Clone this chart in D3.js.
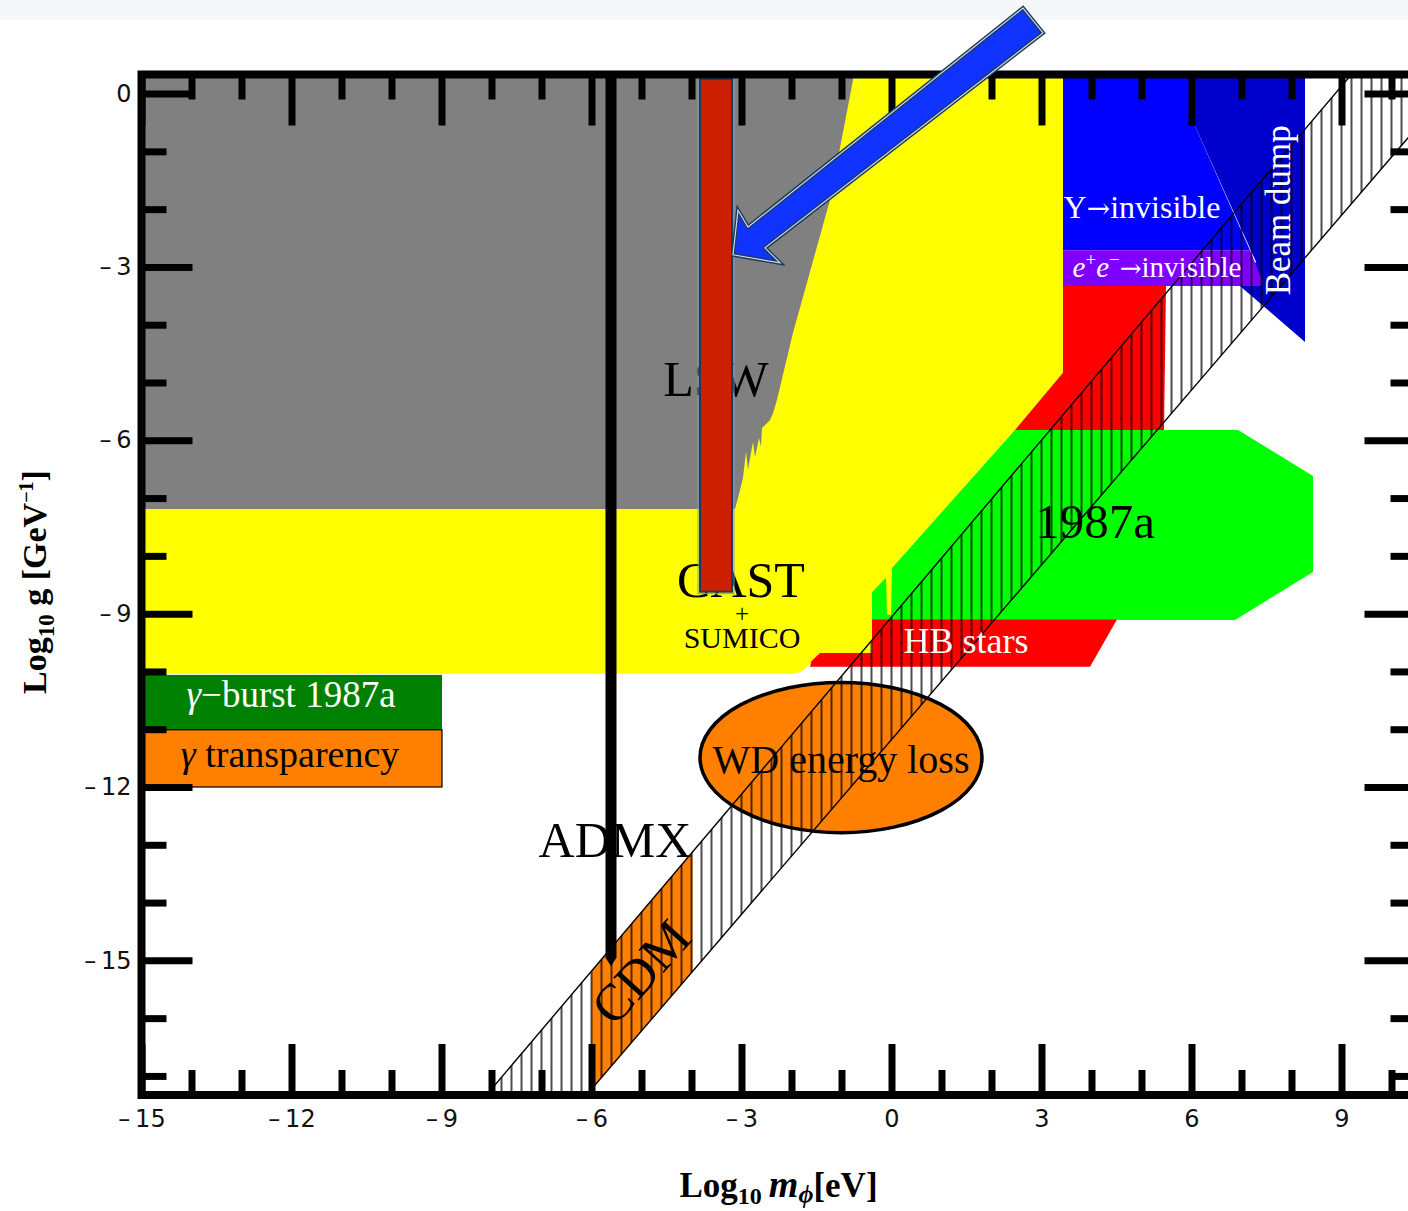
<!DOCTYPE html>
<html>
<head>
<meta charset="utf-8">
<title>Axion-like particle exclusion limits</title>
<script src="https://cdn.jsdelivr.net/npm/d3@7"></script>
<style>
  html, body { margin: 0; padding: 0; background: #fff; }
  svg { display: block; }
</style>
</head>
<body>
<svg id="chart" width="1408" height="1211"></svg>
<script>
// Axis extents: log10 of the mass (eV) and of the coupling (GeV^-1)
const massDomain = [-15, 10.48];
const couplingDomain = [-17.33, 0.33];

const massMajorTicks = [-15, -12, -9, -6, -3, 0, 3, 6, 9];
const massMinorTicks = [-14, -13, -11, -10, -8, -7, -5, -4, -2, -1, 1, 2, 4, 5, 7, 8, 10];
const couplingMajorTicks = [0, -3, -6, -9, -12, -15];
const couplingMinorTicks = [-1, -2, -4, -5, -7, -8, -10, -11, -13, -14, -16, -17];

// Excluded regions, outlines as [log10 m, log10 g]
const helioscopeRegion = [[-15, 0.33], [3.43, 0.33], [3.43, -4.83], [2.47, -5.82], [0.01, -8.21],
  [0.01, -9.68], [-1.43, -9.68], [-1.63, -9.87], [-1.8, -10.0], [-1.97, -10.04], [-15, -10.04]];
const lswRegion = [[-15, 0.33], [-0.76, 0.33], [-0.77, 0.235], [-1.23, -1.84], [-1.97, -4.14],
  [-2.29, -5.30], [-2.37, -5.53], [-2.43, -5.65], [-2.59, -5.79], [-2.61, -6.11], [-2.65, -5.96],
  [-2.73, -6.29], [-2.77, -6.03], [-2.87, -6.51], [-2.91, -6.20], [-2.97, -6.65], [-3.07, -7.00],
  [-3.13, -7.19], [-15, -7.19]];
const upsilonRegion = [[3.43, 0.33], [6.07, 0.33], [6.07, -0.56], [7.17, -2.71], [3.43, -2.71]];
const beamDumpRegion = [[6.07, 0.33], [8.27, 0.33], [8.27, -4.30], [6.97, -3.33], [7.29, -2.91], [6.07, -0.56]];
const eeInvisibleRegion = [[3.43, -2.71], [7.17, -2.71], [7.41, -3.23], [7.41, -3.33], [3.43, -3.33]];
const stellarRegion = [[3.43, -3.33], [5.49, -3.33], [5.45, -5.82], [2.47, -5.82], [3.43, -4.83]];
const sn1987aRegion = [[2.47, -5.82], [6.93, -5.82], [8.43, -6.62], [8.43, -8.28], [6.87, -9.11],
  [-0.39, -9.11], [-0.39, -8.63], [-0.11, -8.38], [-0.09, -9.02], [-0.01, -9.02], [0.01, -8.21]];
const hbStarsRegion = [[-0.39, -9.10], [4.51, -9.10], [3.97, -9.92], [-1.63, -9.92], [-1.60, -9.82],
  [-1.43, -9.68], [-0.39, -9.68]];
const gammaBurstBox = { m: [-15, -8.99], g: [-11.01, -10.06] };
const transparencyBox = { m: [-15, -8.99], g: [-12.0, -11.01] };
const wdEllipse = { m: -1.01, g: -11.49, dm: 2.82, dg: 1.30 };
const admxLine = [[-5.72, 0.33], [-5.50, 0.33], [-5.50, -14.95], [-5.61, -15.1], [-5.72, -14.95]];
const lswBar = { m: [-3.83, -3.19], g: [-8.62, 0.25] };

// Theory band (hatched) edges and the cold-dark-matter window inside it
const bandUpper = [[-8.10, -17.33], [11.0, 2.17]];
const bandLower = [[-6.10, -17.33], [11.0, -0.09]];
const hatchStart = -8.0;       // first hatch line, log10 m
const hatchStep = 0.2;         // hatch spacing, log10 m
const cdmMass = [-6.0, -3.98];

// Pointer towards the light-shining-through-wall bar
const arrowOutline = [[-3.17, -2.79], [-3.07, -2.02], [-2.87, -2.31], [2.63, 1.48], [3.03, 1.05],
  [-2.53, -2.67], [-2.23, -2.93]];

const svg = d3.select("#chart");
const x = d3.scaleLinear().domain(massDomain).range([141.5, 1415.5]);
const y = d3.scaleLinear().domain(couplingDomain).range([1095, 74.5]);
const line = d3.line().x(d => x(d[0])).y(d => y(d[1]));
const closed = pts => line(pts) + "Z";
const edgeAt = (edge, m) => d3.scaleLinear().domain([edge[0][0], edge[1][0]]).range([edge[0][1], edge[1][1]])(m);

const SERIF = "'Liberation Serif', 'Times New Roman', serif";
const ARROW_FONT = "'DejaVu Serif', serif";

// faint strip along the very top
svg.append("rect").attr("x", 0).attr("y", 0).attr("width", 1408).attr("height", 20).attr("fill", "#f5f7fa");

const defs = svg.append("defs");
defs.append("clipPath").attr("id", "plot-clip")
  .append("rect")
  .attr("x", x(massDomain[0])).attr("y", y(couplingDomain[1]))
  .attr("width", x(massDomain[1]) - x(massDomain[0]))
  .attr("height", y(couplingDomain[0]) - y(couplingDomain[1]));

const hatch = defs.append("pattern").attr("id", "hatch")
  .attr("patternUnits", "userSpaceOnUse")
  .attr("x", x(hatchStart) - 5).attr("y", 0)
  .attr("width", x(hatchStart + hatchStep) - x(hatchStart)).attr("height", 20);
hatch.append("line").attr("x1", 5).attr("x2", 5).attr("y1", 0).attr("y2", 20)
  .attr("stroke", "#000").attr("stroke-width", 1.4);

const plot = svg.append("g").attr("clip-path", "url(#plot-clip)");

const fillRegion = (pts, color) => plot.append("path").attr("d", closed(pts)).attr("fill", color);
fillRegion(helioscopeRegion, "#ffff00");
fillRegion(lswRegion, "#808080");
fillRegion(beamDumpRegion, "#0000cc");
fillRegion(upsilonRegion, "#0000ff");
fillRegion(eeInvisibleRegion, "#8000ff");
fillRegion(stellarRegion, "#ff0000");
fillRegion(sn1987aRegion, "#00ff00");
fillRegion(hbStarsRegion, "#ff0000");

const box = (b, color, stroke) => plot.append("rect")
  .attr("x", x(b.m[0])).attr("y", y(b.g[1]))
  .attr("width", x(b.m[1]) - x(b.m[0])).attr("height", y(b.g[0]) - y(b.g[1]))
  .attr("fill", color).attr("stroke", stroke || "none").attr("stroke-width", 1.2);
box(gammaBurstBox, "#008000");
box(transparencyBox, "#ff8000", "#000");

// white-dwarf cooling ellipse
plot.append("ellipse")
  .attr("cx", x(wdEllipse.m)).attr("cy", y(wdEllipse.g))
  .attr("rx", x(wdEllipse.m + wdEllipse.dm) - x(wdEllipse.m))
  .attr("ry", y(wdEllipse.g - wdEllipse.dg) - y(wdEllipse.g))
  .attr("fill", "#ff8000").attr("stroke", "#000").attr("stroke-width", 3.5);

// CDM window
const cdmPoly = [
  [cdmMass[0], edgeAt(bandLower, cdmMass[0])], [cdmMass[0], edgeAt(bandUpper, cdmMass[0])],
  [cdmMass[1], edgeAt(bandUpper, cdmMass[1])], [cdmMass[1], edgeAt(bandLower, cdmMass[1])]
];
fillRegion(cdmPoly, "#ff8000");

// hatched theory band
plot.append("path").attr("d", closed([...bandUpper, ...bandLower.slice().reverse()]))
  .attr("fill", "url(#hatch)");
[bandUpper, bandLower].forEach(edge => plot.append("path").attr("d", line(edge))
  .attr("fill", "none").attr("stroke", "#000").attr("stroke-width", 1.4));

// ADMX
fillRegion(admxLine, "#000");

// region labels
const label = (m, g, txt, size, color) => {
  const t = plot.append("text").attr("x", x(m)).attr("y", y(g))
    .attr("text-anchor", "middle").attr("font-family", SERIF)
    .attr("font-size", size).attr("fill", color || "#000");
  if (typeof txt === "string") t.text(txt); else txt(t);
  return t;
};
label(-3.51, -5.23, "LSW", 50);
label(-3.01, -8.71, "CAST", 50);
label(-2.99, -9.15, "+", 25);
label(-2.99, -9.59, "SUMICO", 30);
label(-5.53, -13.21, "ADMX", 50);
label(-1.01, -11.76, "WD energy loss", 40);
label(4.07, -7.69, "1987a", 49);
label(1.49, -9.68, "HB stars", 36, "#fff");
label(5.01, -2.15, t => {
  t.append("tspan").text("\u03A5");
  t.append("tspan").attr("font-family", ARROW_FONT).attr("font-size", 28).text("\u2192");
  t.append("tspan").text("invisible");
}, 32, "#fff");
label(5.31, -3.17, t => {
  t.append("tspan").attr("font-style", "italic").text("e");
  t.append("tspan").attr("dy", -11).attr("font-size", 19).text("+");
  t.append("tspan").attr("dy", 11).attr("font-style", "italic").text("e");
  t.append("tspan").attr("dy", -11).attr("font-size", 19).text("\u2212");
  t.append("tspan").attr("dy", 11).attr("font-family", ARROW_FONT).attr("font-size", 26).text("\u2192");
  t.append("tspan").text("invisible");
}, 29, "#fff");
label(-12.01, -10.61, t => {
  t.append("tspan").attr("font-style", "italic").text("\u03B3");
  t.append("tspan").text("\u2212burst 1987a");
}, 37, "#fff");
label(-12.03, -11.65, t => {
  t.append("tspan").attr("font-style", "italic").text("\u03B3");
  t.append("tspan").text(" transparency");
}, 38, "#000");

plot.append("text")
  .attr("transform", `translate(${x(7.97)},${y(-2.02)}) rotate(-90)`)
  .attr("text-anchor", "middle").attr("font-family", SERIF).attr("font-size", 35)
  .attr("fill", "#fff").text("Beam dump");

plot.append("text")
  .attr("transform", `translate(${x(-5.01)},${y(-15.2)}) rotate(-48)`)
  .attr("text-anchor", "middle").attr("dominant-baseline", "central")
  .attr("font-family", SERIF).attr("font-size", 52).attr("fill", "#000").text("CDM");

// light-shining-through-wall bar
const barX = x(lswBar.m[0]), barW = x(lswBar.m[1]) - x(lswBar.m[0]);
const barY = y(lswBar.g[1]), barH = y(lswBar.g[0]) - y(lswBar.g[1]);
plot.append("rect").attr("x", barX - 2).attr("y", barY - 2).attr("width", barW + 4).attr("height", barH + 4)
  .attr("fill", "none").attr("stroke", "#7d9cc0").attr("stroke-width", 1);
plot.append("rect").attr("x", barX).attr("y", barY).attr("width", barW).attr("height", barH)
  .attr("fill", "#cc2000").attr("stroke", "#1d3a5f").attr("stroke-width", 2);

// frame and ticks
const fmt = d => d < 0 ? "\u2013\u2009" + (-d) : String(d);
const styleAxis = g => {
  g.attr("font-family", "'DejaVu Sans', sans-serif").attr("font-size", 24);
  g.select(".domain").remove();
  g.selectAll(".tick line").attr("stroke", "#000").attr("stroke-width", 7);
  g.selectAll(".tick text").attr("fill", "#111");
};
const bottomY = y(couplingDomain[0]), topY = y(couplingDomain[1]);
const leftX = x(massDomain[0]), rightX = x(massDomain[1]);

svg.append("g").attr("transform", `translate(0,${bottomY})`)
  .call(d3.axisBottom(x).tickValues(massMajorTicks).tickSizeInner(-51).tickSizeOuter(0).tickPadding(0).tickFormat(fmt))
  .call(styleAxis)
  .call(g => g.selectAll(".tick text").attr("y", 32).attr("dy", null));
svg.append("g").attr("transform", `translate(0,${bottomY})`)
  .call(d3.axisBottom(x).tickValues(massMinorTicks).tickSizeInner(-25).tickSizeOuter(0).tickFormat(""))
  .call(styleAxis);
svg.append("g").attr("transform", `translate(0,${topY})`)
  .call(d3.axisTop(x).tickValues(massMajorTicks).tickSizeInner(-51).tickSizeOuter(0).tickFormat(""))
  .call(styleAxis);
svg.append("g").attr("transform", `translate(0,${topY})`)
  .call(d3.axisTop(x).tickValues(massMinorTicks).tickSizeInner(-25).tickSizeOuter(0).tickFormat(""))
  .call(styleAxis);
svg.append("g").attr("transform", `translate(${leftX},0)`)
  .call(d3.axisLeft(y).tickValues(couplingMajorTicks).tickSizeInner(-51).tickSizeOuter(0).tickPadding(10).tickFormat(fmt))
  .call(styleAxis);
svg.append("g").attr("transform", `translate(${leftX},0)`)
  .call(d3.axisLeft(y).tickValues(couplingMinorTicks).tickSizeInner(-25).tickSizeOuter(0).tickFormat(""))
  .call(styleAxis);
svg.append("g").attr("transform", `translate(${rightX},0)`)
  .call(d3.axisRight(y).tickValues(couplingMajorTicks).tickSizeInner(-51).tickSizeOuter(0).tickFormat(""))
  .call(styleAxis);
svg.append("g").attr("transform", `translate(${rightX},0)`)
  .call(d3.axisRight(y).tickValues(couplingMinorTicks).tickSizeInner(-25).tickSizeOuter(0).tickFormat(""))
  .call(styleAxis);

svg.append("rect").attr("x", leftX).attr("y", topY)
  .attr("width", rightX - leftX).attr("height", bottomY - topY)
  .attr("fill", "none").attr("stroke", "#000").attr("stroke-width", 8);

// axis titles
const xt = svg.append("text").attr("x", (leftX + rightX) / 2).attr("y", 1197)
  .attr("text-anchor", "middle").attr("font-family", SERIF).attr("font-weight", "bold")
  .attr("font-size", 35).attr("fill", "#000");
xt.append("tspan").text("Log");
xt.append("tspan").attr("dy", 7).attr("font-size", 24).text("10");
xt.append("tspan").attr("dy", -7).text("\u2009");
xt.append("tspan").attr("font-style", "italic").attr("font-size", 38).text("m");
xt.append("tspan").attr("dy", 6).attr("font-size", 26).attr("font-style", "italic").text("\u03D5");
xt.append("tspan").attr("dy", -6).text("[eV]");

const yt = svg.append("text").attr("transform", "translate(46,582) rotate(-90)")
  .attr("text-anchor", "middle").attr("font-family", SERIF).attr("font-weight", "bold")
  .attr("font-size", 34).attr("fill", "#000");
yt.append("tspan").text("Log");
yt.append("tspan").attr("dy", 8).attr("font-size", 23).text("10");
yt.append("tspan").attr("dy", -8).text(" g [GeV");
yt.append("tspan").attr("dy", -13).attr("font-size", 20).text("\u22121");
yt.append("tspan").attr("dy", 13).text("]");

// arrow, drawn over the frame
svg.append("path").attr("d", closed(arrowOutline))
  .attr("fill", "#1133ff").attr("stroke", "#1d3a5f").attr("stroke-width", 4).attr("stroke-linejoin", "miter");
svg.append("path").attr("d", closed(arrowOutline))
  .attr("fill", "none").attr("stroke", "#c8d8f0").attr("stroke-width", 1.2);
</script>
</body>
</html>
